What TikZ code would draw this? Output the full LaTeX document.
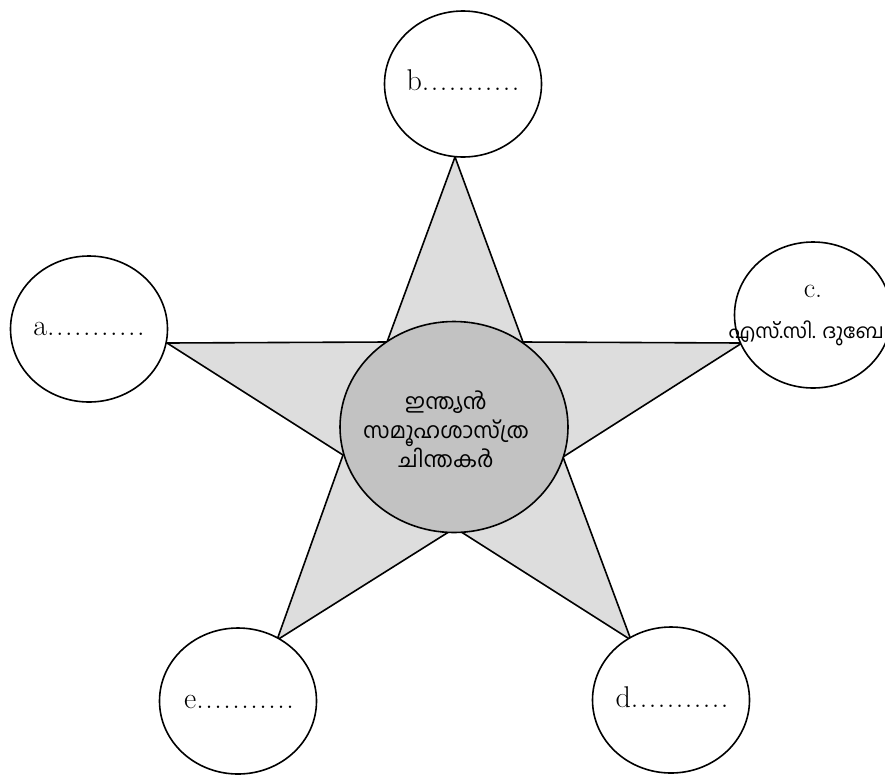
\documentclass[tikz,border=0pt]{standalone}
\usepackage{fontspec}
\usetikzlibrary{shapes.geometric}
\newfontfamily\mlfont[Script=Malayalam]{Hind Kochi}
\newcommand\dotrow{.\kern1.5pt.\kern1.5pt.\kern1.5pt.\kern1.5pt.\kern1.5pt.\kern1.5pt.\kern1.5pt.\kern1.5pt.\kern1.5pt.\kern1.5pt.}
\definecolor{starfill}{RGB}{221,221,221}
\definecolor{hubfill}{RGB}{194,194,194}
\begin{document}
\begin{tikzpicture}[x=1pt,y=-1pt,
  bubble/.style={ellipse,draw,fill=white,line width=1.6pt,minimum width=157pt,minimum height=146pt,inner sep=0pt},
  hub/.style={ellipse,draw,fill=hubfill,line width=1.6pt,minimum width=228pt,minimum height=211pt,inner sep=0pt},
  lbl/.style={anchor=base,inner sep=0pt,font=\fontsize{30}{34}\selectfont},
  ml/.style={inner sep=0pt,font=\mlfont\fontsize{22}{29}\selectfont,align=center}]
\useasboundingbox (0,0) rectangle (885,774);
% star vertices
\coordinate (T)   at (455,157);
\coordinate (IR)  at (523,342);
\coordinate (R)   at (742,343);
\coordinate (IDR) at (563,457);
\coordinate (BR)  at (631,640);
\coordinate (IB)  at (455,528);
\coordinate (BL)  at (277,640);
\coordinate (IDL) at (343,455);
\coordinate (L)   at (167,343);
\coordinate (IL)  at (387,342);
\draw[fill=starfill,line width=1.6pt,line join=miter]
  (T) -- (IR) -- (R) -- (IDR) -- (BR) -- (IB) -- (BL) -- (IDL) -- (L) -- (IL) -- cycle;
% hub
\node[hub] (hub) at (454,427) {};
\node[ml] (hubtext) at (446,429) {ഇന്ത്യൻ\\സമൂഹശാസ്ത്ര\\ചിന്തകർ};
% bubbles
\node[bubble] (a) at (89,329) {};
\node[bubble] (b) at (463,84) {};
\node[bubble] (c) at (813,315) {};
\node[bubble] (d) at (671,700) {};
\node[bubble] (e) at (238,701) {};
% labels
\node[lbl] (atext) at (89,335) {a\dotrow};
\node[lbl] (btext) at (463,90) {b\dotrow};
\node[lbl] (dtext) at (672,707) {d\dotrow};
\node[lbl] (etext) at (239,708) {e\dotrow};
\node[lbl,font=\fontsize{28}{32}\selectfont] (ctext) at (813,297) {c.};
\node[anchor=base east,inner sep=0pt,font=\mlfont\fontsize{20}{26}\selectfont] (cname) at (884,338) {എസ്.സി. ദുബേ};
\end{tikzpicture}
\end{document}
